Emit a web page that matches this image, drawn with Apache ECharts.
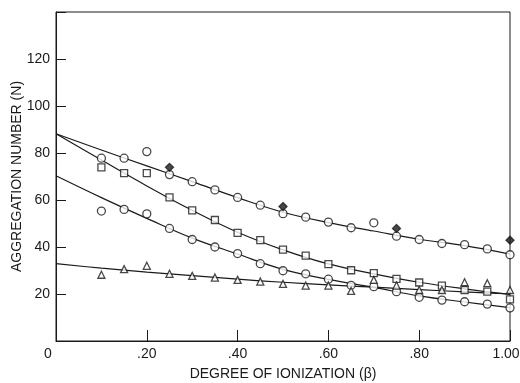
<!DOCTYPE html>
<html>
<head>
<meta charset="utf-8">
<script src="https://cdn.jsdelivr.net/npm/echarts@6/dist/echarts.min.js"></script>
<style>
  html, body { margin: 0; padding: 0; background: #fff; }
  #chart { width: 520px; height: 383px; }
</style>
</head>
<body>
<div id="chart"></div>
<script>
// degree of ionization for the measured points
const beta = [0.10, 0.15, 0.20, 0.25, 0.30, 0.35, 0.40, 0.45, 0.50, 0.55,
              0.60, 0.65, 0.70, 0.75, 0.80, 0.85, 0.90, 0.95, 1.00];
const topCircles = [77.8, 77.8, 80.6, 70.8, 67.8, 64.3, 61.1, 57.8, 54.2, 52.7,
                    50.6, 48.2, 50.3, 44.6, 43.2, 41.5, 41.0, 39.2, 36.7];
const squares = [73.9, 71.4, 71.4, 61.1, 55.6, 51.5, 46.0, 42.9, 38.9, 36.3,
                 32.7, 30.1, 28.9, 26.4, 24.9, 23.6, 21.7, 21.0, 17.7];
const lowCircles = [55.3, 56.0, 54.1, 47.9, 43.2, 40.0, 37.2, 32.9, 29.9, 28.6,
                    26.3, 23.7, 23.1, 21.0, 18.6, 17.4, 16.7, 15.7, 14.1];
const triangles = [28.2, 30.6, 32.0, 28.6, 27.7, 27.0, 26.0, 25.3, 24.3, 23.6,
                   23.6, 21.3, 26.0, 23.6, 21.7, 21.7, 25.0, 24.6, 21.7];
const diamondBeta = [0.25, 0.50, 0.75, 1.00];
const diamonds = [73.9, 57.2, 47.9, 42.9];

// smooth curves drawn through the data
const fitBeta = [0, 0.1, 0.2, 0.3, 0.4, 0.5, 0.6, 0.7, 0.8, 0.9, 1.0];
const fitTop = [88.2, 81.3, 74.5, 67.8, 61.0, 54.8, 50.4, 46.8, 43.3, 40.6, 37.0];
const fitSquare = [88.2, 77.0, 66.0, 55.6, 46.3, 38.8, 32.8, 28.6, 25.0, 22.2, 19.8];
const fitLow = [70.3, 61.0, 52.2, 43.8, 37.0, 30.5, 26.2, 22.8, 19.2, 16.6, 14.2];
const fitTri = [32.9, 31.0, 29.3, 27.8, 26.3, 25.0, 23.9, 22.9, 21.9, 20.9, 20.0];

const xTickLabels = ['0', '.20', '.40', '.60', '.80', '1.00'];
const yTickLabels = ['', '20', '40', '60', '80', '100', '120', ''];

var ink = '#1a1a1a';
var pairs = (xs, ys) => xs.map((x, i) => [x, ys[i]]);

function fitLine(ys) {
  return {
    type: 'line', data: pairs(fitBeta, ys), smooth: 0.4, symbol: 'none',
    lineStyle: { color: ink, width: 1.2 }, z: 1, silent: true
  };
}
function points(xs, ys, symbol, size, fill) {
  return {
    type: 'scatter', data: pairs(xs, ys), symbol: symbol, symbolSize: size,
    itemStyle: { color: fill, borderColor: ink, borderWidth: 1.3 }, z: 3
  };
}

var myChart = echarts.init(document.getElementById('chart'));
var font = 'Liberation Sans';

var option = {
  animation: false,
  grid: {
    left: 56, right: 10, top: 12, bottom: 42,
    containLabel: false, outerBoundsMode: 'none',
    show: true, borderColor: ink, borderWidth: 1
  },
  xAxis: {
    type: 'value', min: 0, max: 1, interval: 0.2,
    name: 'DEGREE OF IONIZATION (β)', nameLocation: 'middle', nameGap: 26,
    nameTextStyle: { fontFamily: font, fontSize: 14, color: ink },
    axisLine: { lineStyle: { color: ink } },
    axisTick: { inside: true, length: 11, lineStyle: { color: ink } },
    splitLine: { show: false },
    axisLabel: {
      fontFamily: font, fontSize: 14, color: ink, margin: 6,
      formatter: function (v) {
        var i = Math.round(v / 0.2);
        if (i === 0) return '{l|' + xTickLabels[i] + '}';
        if (i === 5) return '{r|' + xTickLabels[i] + '}';
        return xTickLabels[i];
      },
      rich: {
        l: { fontFamily: font, fontSize: 14, color: ink, padding: [0, 16, 0, 0] },
        r: { fontFamily: font, fontSize: 14, color: ink, padding: [0, 8, 0, 0] }
      }
    }
  },
  yAxis: {
    type: 'value', min: 0, max: 140, interval: 20,
    name: 'AGGREGATION NUMBER (N)', nameLocation: 'middle', nameGap: 32,
    nameMoveOverlap: false,
    nameTextStyle: { fontFamily: font, fontSize: 14, color: ink },
    axisLine: { show: true, lineStyle: { color: ink } },
    axisTick: { show: true, inside: true, length: 10, lineStyle: { color: ink } },
    splitLine: { show: false },
    axisLabel: {
      fontFamily: font, fontSize: 14, color: ink, margin: 6,
      formatter: function (v) { return yTickLabels[Math.round(v / 20)]; }
    }
  },
  series: [
    fitLine(fitTop),
    fitLine(fitSquare),
    fitLine(fitLow),
    fitLine(fitTri),
    points(beta, topCircles, 'circle', 8, '#fff'),
    points(beta, squares, 'rect', 7, '#fff'),
    points(beta, lowCircles, 'circle', 8, '#fff'),
    points(beta, triangles, 'triangle', 7, '#fff'),
    points(diamondBeta, diamonds, 'diamond', 8, ink)
  ]
};

myChart.setOption(option);
</script>
</body>
</html>
